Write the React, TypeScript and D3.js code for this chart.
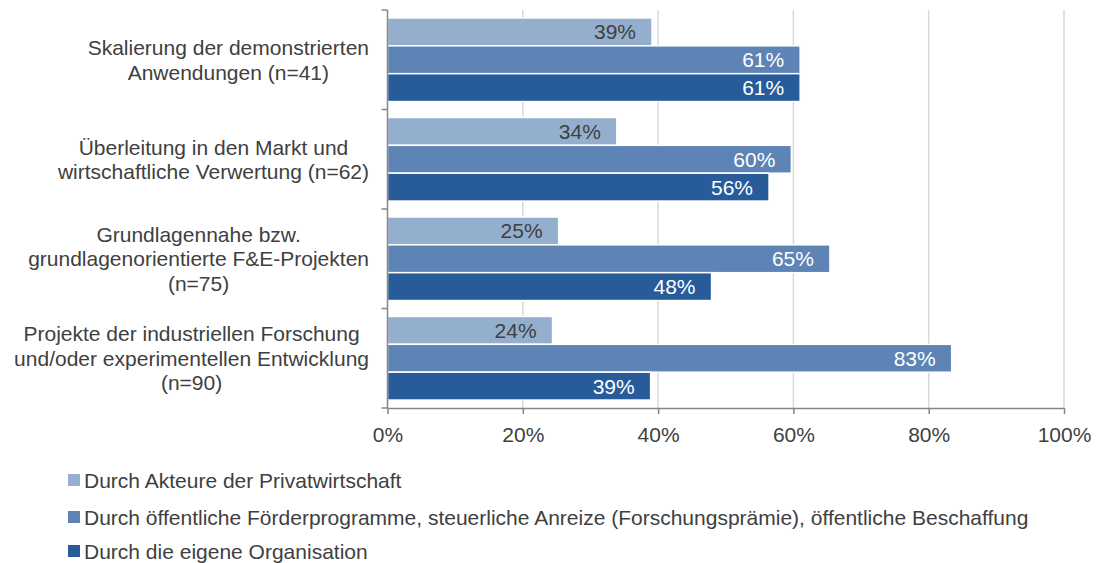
import React, { useRef, useEffect } from "react";
import * as d3 from "d3";

const categories = [
  ["Skalierung der demonstrierten", "Anwendungen (n=41)"],
  ["Überleitung in den Markt und", "wirtschaftliche Verwertung (n=62)"],
  ["Grundlagennahe bzw.", "grundlagenorientierte F&E-Projekten", "(n=75)"],
  ["Projekte der industriellen Forschung", "und/oder experimentellen Entwicklung", "(n=90)"],
];

const seriesNames = [
  "Durch Akteure der Privatwirtschaft",
  "Durch öffentliche Förderprogramme, steuerliche Anreize (Forschungsprämie), öffentliche Beschaffung",
  "Durch die eigene Organisation",
];

const privatwirtschaft = [39.1, 33.9, 25.3, 24.4];
const foerderung = [61.0, 59.7, 65.4, 83.4];
const eigeneOrg = [61.0, 56.4, 47.9, 38.9];

const xTicks = [0, 20, 40, 60, 80, 100];

const colors = ["#94afce", "#5e83b5", "#285b9a"];
const labelColors = ["#404040", "#ffffff", "#ffffff"];

const App: React.FC = () => {
  const svgRef = useRef<SVGSVGElement | null>(null);

  useEffect(() => {
    if (!svgRef.current) return;
    const svg = d3.select(svgRef.current);
    svg.selectAll("*").remove();

    const width = 1096;
    const height = 563;
    const margin = { top: 10, right: 32, bottom: 155, left: 387.5 };
    const font = "'Liberation Sans', Arial, sans-serif";
    const fs = 21;

    const series = [privatwirtschaft, foerderung, eigeneOrg];

    const x = d3
      .scaleLinear()
      .domain([0, 100])
      .range([margin.left, width - margin.right]);

    const y = d3
      .scaleBand<number>()
      .domain(d3.range(categories.length))
      .range([margin.top, height - margin.bottom])
      .paddingInner(0.16)
      .paddingOuter(0.08);

    const yInner = d3
      .scaleBand<number>()
      .domain(d3.range(series.length))
      .range([0, y.bandwidth()]);

    // Grid lines
    svg
      .append("g")
      .selectAll("line")
      .data(xTicks.slice(1))
      .join("line")
      .attr("x1", (d) => x(d))
      .attr("x2", (d) => x(d))
      .attr("y1", margin.top)
      .attr("y2", height - margin.bottom)
      .attr("stroke", "#d9d9d9")
      .attr("stroke-width", 1.5);

    // Bars
    series.forEach((values, si) => {
      const g = svg.append("g");
      g.selectAll("rect")
        .data(values)
        .join("rect")
        .attr("x", x(0))
        .attr("y", (_, i) => (y(i) as number) + (yInner(si) as number))
        .attr("width", (d) => x(d) - x(0))
        .attr("height", yInner.bandwidth())
        .attr("fill", colors[si])
        .attr("stroke", "#ffffff")
        .attr("stroke-width", 1.5);

      g.selectAll("text")
        .data(values)
        .join("text")
        .attr("x", (d) => x(d) - 16)
        .attr(
          "y",
          (_, i) =>
            (y(i) as number) + (yInner(si) as number) + yInner.bandwidth() / 2
        )
        .attr("dy", "0.36em")
        .attr("text-anchor", "end")
        .attr("font-family", font)
        .attr("font-size", fs)
        .attr("fill", labelColors[si])
        .text((d) => `${Math.round(d)}%`);
    });

    // Y axis line and ticks
    const yAxisG = svg.append("g");
    yAxisG
      .append("line")
      .attr("x1", x(0))
      .attr("x2", x(0))
      .attr("y1", margin.top)
      .attr("y2", height - margin.bottom)
      .attr("stroke", "#868686")
      .attr("stroke-width", 1.5);
    const step = y.step();
    const boundaries = d3
      .range(categories.length + 1)
      .map((i) => (y(0) as number) - y.paddingOuter() * step + i * step);
    yAxisG
      .selectAll("line.tick")
      .data(boundaries)
      .join("line")
      .attr("class", "tick")
      .attr("x1", x(0) - 6)
      .attr("x2", x(0))
      .attr("y1", (d) => d)
      .attr("y2", (d) => d)
      .attr("stroke", "#868686")
      .attr("stroke-width", 1.5);

    // Category labels: block right-aligned at 369, lines centred within block
    const lineH = 24.5;
    const labelRight = 369;
    categories.forEach((lines, i) => {
      const cy = (y(i) as number) + y.bandwidth() / 2;
      const t = svg
        .append("text")
        .attr("text-anchor", "middle")
        .attr("font-family", font)
        .attr("font-size", fs)
        .attr("fill", "#404040");
      const spans = lines.map((ln, li) =>
        t
          .append("tspan")
          .attr("y", cy + (li - (lines.length - 1) / 2) * lineH)
          .attr("dy", "0.36em")
          .text(ln)
      );
      const maxW = d3.max(spans, (s) =>
        (s.node() as SVGTSpanElement).getComputedTextLength()
      ) as number;
      spans.forEach((s) => s.attr("x", labelRight - maxW / 2));
    });

    // X axis
    const xAxisY = height - margin.bottom;
    svg
      .append("g")
      .attr("transform", `translate(0,${xAxisY})`)
      .call(
        d3
          .axisBottom(x)
          .tickValues(xTicks)
          .tickSize(6)
          .tickSizeOuter(0)
          .tickFormat((d) => `${d}%`)
      )
      .call((g) =>
        g.select(".domain").attr("stroke", "#868686").attr("stroke-width", 1.5)
      )
      .call((g) =>
        g
          .selectAll(".tick line")
          .attr("stroke", "#868686")
          .attr("stroke-width", 1.5)
      )
      .call((g) =>
        g
          .selectAll(".tick text")
          .attr("fill", "#404040")
          .attr("font-size", fs)
          .attr("font-family", font)
          .attr("y", 9)
          .attr("dy", 25)
      );

    // Legend
    const legendY = [480, 517, 551];
    const legend = svg
      .append("g")
      .selectAll("g")
      .data(seriesNames)
      .join("g")
      .attr("transform", (_, i) => `translate(68,${legendY[i]})`);
    legend
      .append("rect")
      .attr("x", 0)
      .attr("y", -6)
      .attr("width", 12)
      .attr("height", 12)
      .attr("fill", (_, i) => colors[i]);
    legend
      .append("text")
      .attr("x", 16)
      .attr("dy", "0.36em")
      .attr("font-family", font)
      .attr("font-size", fs)
      .attr("fill", "#404040")
      .text((d) => d);
  }, []);

  return (
    <svg
      ref={svgRef}
      width={1096}
      height={563}
      style={{ position: "absolute", left: 0, top: 0, background: "#ffffff" }}
    />
  );
};

export default App;
